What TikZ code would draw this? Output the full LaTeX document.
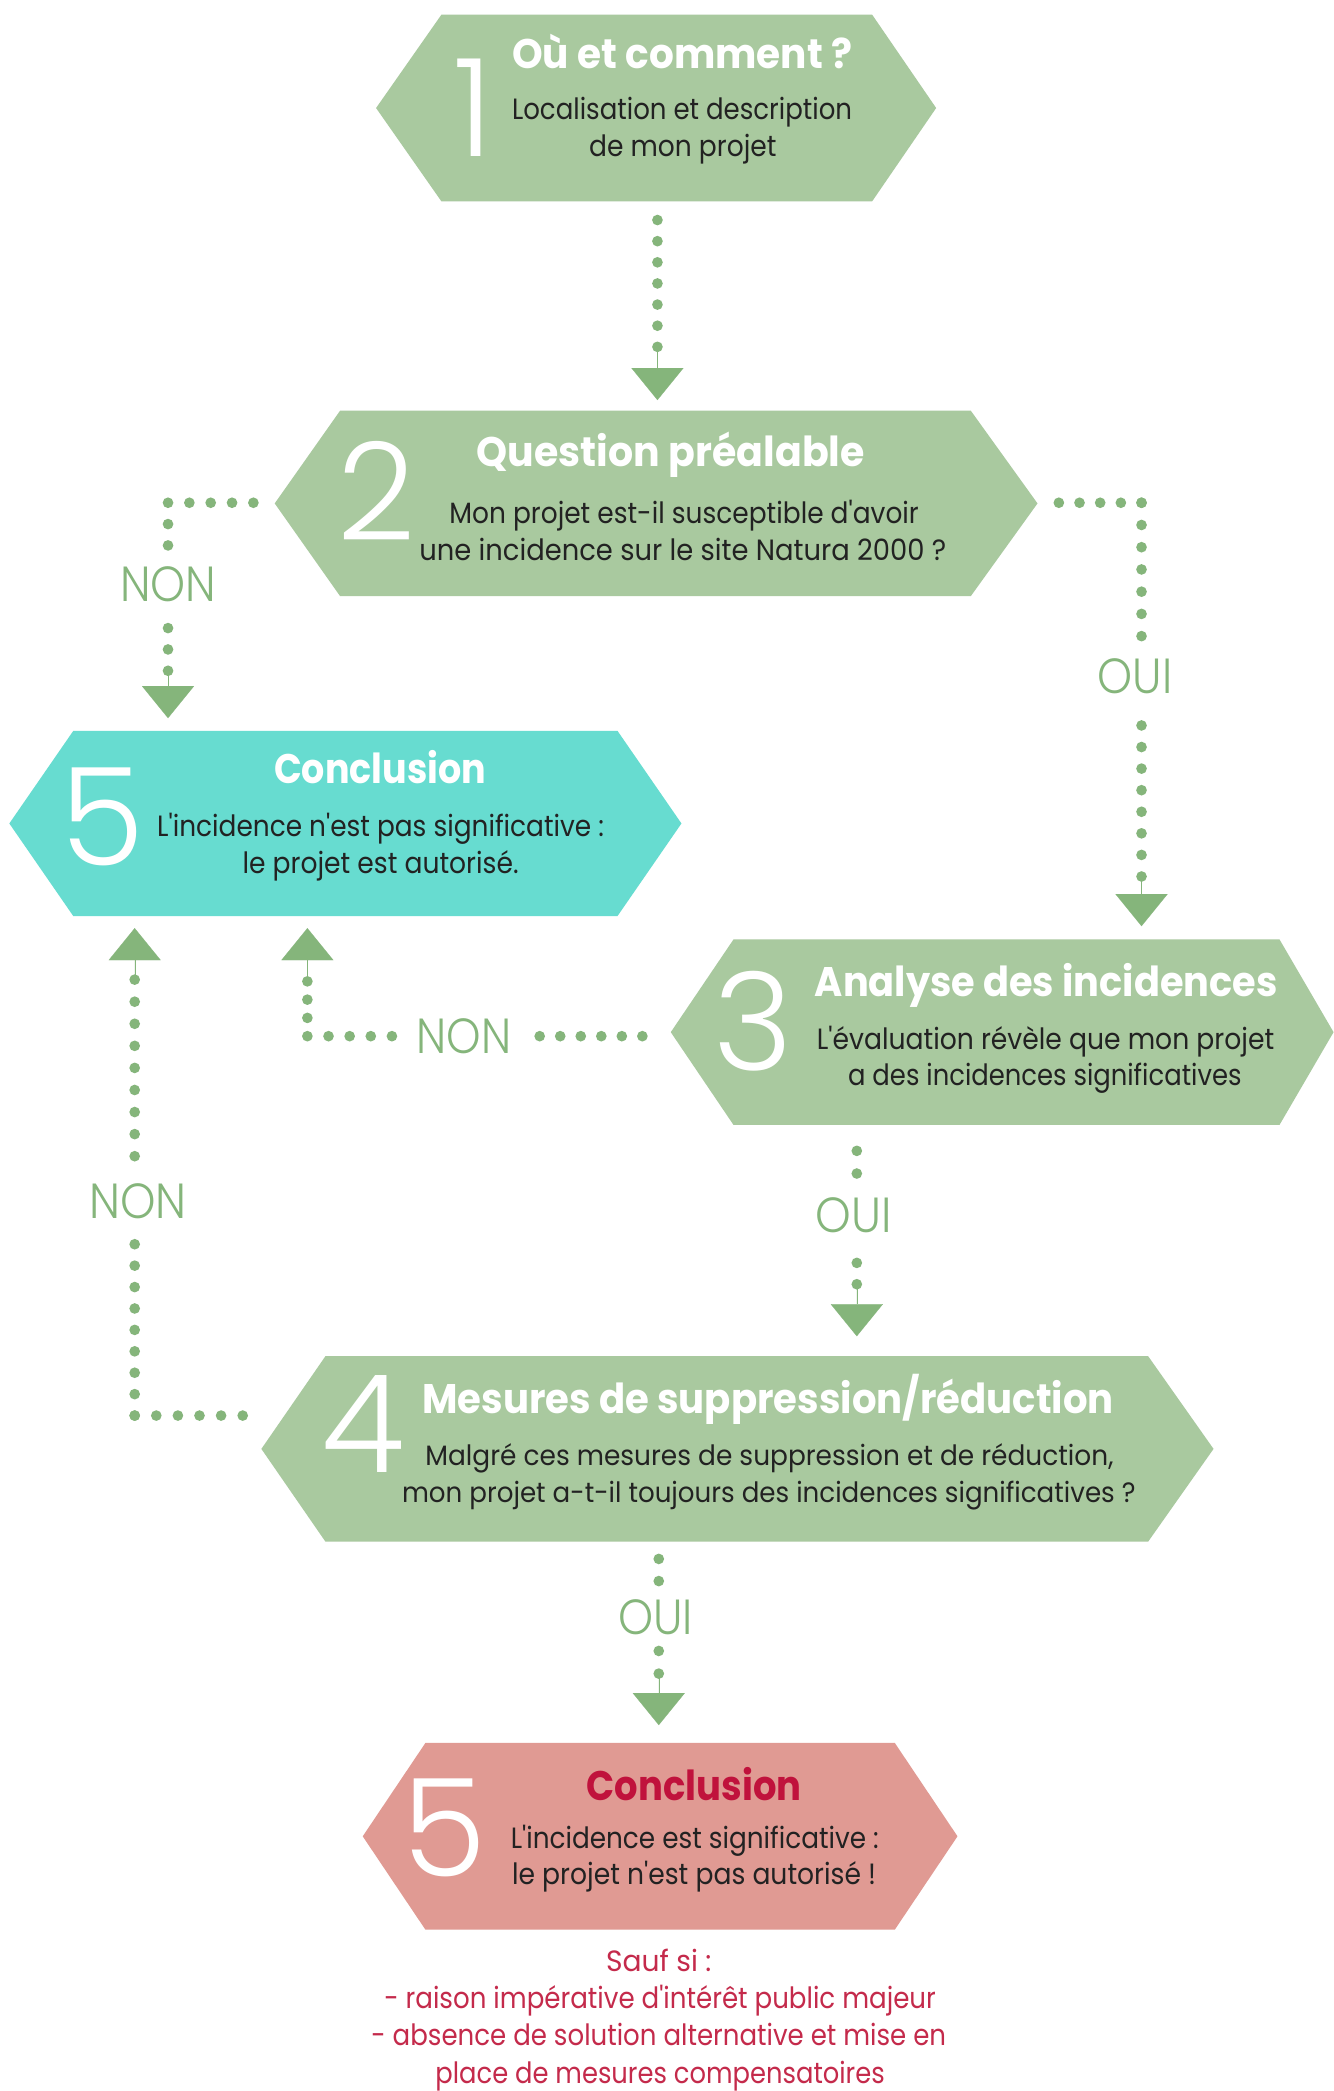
\documentclass[tikz,border=0pt]{standalone}
\usepackage{fontspec}
\usepackage{graphicx}
\setmainfont{Poppins}
\IfFontExistsTF{Poppins Light}{\newfontfamily\lightf{Poppins Light}}{\newfontfamily\lightf{Poppins}}
\usetikzlibrary{arrows.meta,calc}
\definecolor{hexgreen}{HTML}{A9C99F}
\definecolor{dotgreen}{HTML}{85B57B}
\definecolor{cyanhex}{HTML}{67DCD0}
\definecolor{pinkhex}{HTML}{E09A93}
\definecolor{crimson}{HTML}{C0123C}
\definecolor{saufred}{HTML}{C42A4B}
\definecolor{bodygray}{HTML}{222222}
\newlength\fitlen
\newcommand\fitto[2]{\settowidth\fitlen{#2}\pgfmathsetmacro\fitratio{#1/\fitlen}\scalebox{\fitratio}[1]{#2}}
\newcommand\ap{\textquotesingle}
\newcommand\hexfill[4]{\fill[#2] (#1.west) -- ($(#1.north west)+(#3,0)$) -- ($(#1.north east)+(-#4,0)$) -- (#1.east) -- ($(#1.south east)+(-#4,0)$) -- ($(#1.south west)+(#3,0)$) -- cycle;}
\tikzset{
  hexbox/.style={rectangle, inner sep=0pt, outer sep=0pt},
  ttlx/.style={font=\bfseries\fontsize{31}{36}\selectfont, text=white, anchor=base, inner sep=0pt},
  bodyx/.style={font=\fontsize{22}{27}\selectfont, text=bodygray, anchor=base, inner sep=0pt},
  smallbodyx/.style={bodyx, font=\fontsize{21}{26}\selectfont},
  saufx/.style={font=\fontsize{22}{27}\selectfont, text=saufred, anchor=base, inner sep=0pt},
  numx/.style={font=\lightf\fontsize{102}{102}\selectfont, text=white, anchor=base, inner sep=0pt},
  lblx/.style={font=\lightf\fontsize{37}{40}\selectfont, text=dotgreen, inner sep=0pt},
  dotrun/.style={draw=dotgreen, line width=8pt, line cap=round, dash pattern=on 0pt off #1pt},
  dotrun/.default=16,
  headrun/.style={draw=dotgreen, fill=dotgreen, line width=0.1pt, -{Triangle[length=24pt,width=39pt]}}
}
\begin{document}
\begin{tikzpicture}[x=1pt,y=-1pt]
\useasboundingbox (0,0) rectangle (1000,1568);
\fill[white] (0,0) rectangle (1000,1568);

% ---------- hexagons ----------
\node[hexbox, minimum width=420pt, minimum height=140pt] (h1) at (492,81) {};
\hexfill{h1}{hexgreen}{49}{48}
\node[hexbox, minimum width=572pt, minimum height=139pt] (h2) at (492,377.5) {};
\hexfill{h2}{hexgreen}{49}{50}
\node[hexbox, minimum width=504pt, minimum height=139pt] (h5c) at (259,617.5) {};
\hexfill{h5c}{cyanhex}{48}{48}
\node[hexbox, minimum width=497pt, minimum height=139pt] (h3) at (751.5,774) {};
\hexfill{h3}{hexgreen}{47}{40.5}
\node[hexbox, minimum width=714pt, minimum height=139pt] (h4) at (553,1086.5) {};
\hexfill{h4}{hexgreen}{48}{49}
\node[hexbox, minimum width=446pt, minimum height=140pt] (h5r) at (495,1377) {};
\hexfill{h5r}{pinkhex}{47}{47}

% ---------- texts ----------
\node[numx] (h1n) at (355,117.5) {1};
\node[ttlx] (h1t) at (511.6,51.2) {\fitto{255pt}{Où et comment ?}};
\node[bodyx] (h1a) at (511.5,89.5) {\fitto{255pt}{Localisation et description}};
\node[bodyx] (h1b) at (512,117.5) {\fitto{140.5pt}{de mon projet}};

\node[numx] (h2n) at (282.5,405) {2};
\node[ttlx] (h2t) at (503,350) {\fitto{291pt}{Question préalable}};
\node[bodyx] (h2a) at (513,392.4) {\fitto{352pt}{Mon projet est-il susceptible d\ap avoir}};
\node[bodyx] (h2b) at (512,420) {\fitto{395pt}{une incidence sur le site Natura 2000 ?}};

\node[numx] (h5cn) at (76.5,649) {5};
\node[ttlx] (h5ct) at (285,587.8) {\fitto{159pt}{Conclusion}};
\node[bodyx] (h5ca) at (285.4,627) {\fitto{335pt}{L\ap incidence n\ap est pas significative :}};
\node[bodyx] (h5cb) at (285.4,654.8) {\fitto{207pt}{le projet est autorisé.}};

\node[numx] (h3n) at (564.5,803) {3};
\node[ttlx] (h3t) at (784.5,747.4) {\fitto{347pt}{Analyse des incidences}};
\node[bodyx] (h3a) at (784,786.7) {\fitto{343pt}{L\ap évaluation révèle que mon projet}};
\node[bodyx] (h3b) at (783.5,814) {\fitto{295pt}{a des incidences significatives}};

\node[numx] (h4n) at (272,1104.5) {4};
\node[ttlx] (h4t) at (576,1060) {\fitto{518.5pt}{Mesures de suppression/réduction}};
\node[smallbodyx] (h4a) at (577,1099) {\fitto{516pt}{Malgré ces mesures de suppression et de réduction,}};
\node[smallbodyx] (h4b) at (576.5,1127) {\fitto{550pt}{mon projet a-t-il toujours des incidences significatives ?}};

\node[numx] (h5rn) at (333,1407) {5};
\node[ttlx, text=crimson] (h5rt) at (520.5,1350.5) {\fitto{161pt}{Conclusion}};
\node[bodyx] (h5ra) at (521,1386) {\fitto{276pt}{L\ap incidence est significative :}};
\node[bodyx] (h5rb) at (520.5,1413) {\fitto{273pt}{le projet n\ap est pas autorisé !}};

\node[saufx] (s1) at (494,1478) {\fitto{79pt}{Sauf si :}};
\node[saufx] (s2) at (495,1506) {\fitto{413.6pt}{- raison impérative d\ap intérêt public majeur}};
\node[saufx] (s3) at (494,1534) {\fitto{431pt}{- absence de solution alternative et mise en}};
\node[saufx] (s4) at (495,1562) {\fitto{337pt}{place de mesures compensatoires}};

% ---------- labels ----------
\node[lblx] (non1) at (126,438) {\fitto{72pt}{NON}};
\node[lblx] (oui1) at (851,507) {\fitto{56pt}{OUI}};
\node[lblx] (non2) at (348,777) {\fitto{71pt}{NON}};
\node[lblx] (oui2) at (640,911) {\fitto{57pt}{OUI}};
\node[lblx] (non3) at (103.6,900.6) {\fitto{73pt}{NON}};
\node[lblx] (oui3) at (491.6,1213) {\fitto{56pt}{OUI}};

% ---------- connectors ----------
% 1 -> 2
\coordinate (c1a) at (493,165);
\coordinate (c1b) at (493,260.3);
\coordinate (c1t) at (493,300);
\draw[dotrun=15.85] (c1a) -- (c1b);
\draw[headrun] (c1b) -- (c1t);

% 2 -> 5 (NON)
\coordinate (c2a) at (190,377);
\coordinate (c2k) at (126,377);
\coordinate (c2b) at (126,409.3);
\coordinate (c2c) at (126,471);
\coordinate (c2d) at (126,503.3);
\coordinate (c2t) at (126,538.5);
\draw[dotrun] (c2a) -- (c2k) -- (c2b);
\draw[dotrun] (c2c) -- (c2d);
\draw[headrun] (c2d) -- (c2t);

% 2 -> 3 (OUI)
\coordinate (c3a) at (794,377);
\coordinate (c3k) at (856,377);
\coordinate (c3b) at (856,477.3);
\coordinate (c3c) at (856,544);
\coordinate (c3d) at (856,657.3);
\coordinate (c3t) at (856,694.5);
\draw[dotrun=15.5] (c3a) -- (c3k);
\draw[dotrun=16.67] (c3k) -- (c3b);
\draw[dotrun=16.18] (c3c) -- (c3d);
\draw[headrun] (c3d) -- (c3t);

% 3 -> 5 (NON)
\coordinate (c4a) at (481.7,777);
\coordinate (c4b) at (404.7,777);
\coordinate (c4c) at (293.9,777);
\coordinate (c4k) at (230.5,777);
\coordinate (c4d) at (230.5,735.7);
\coordinate (c4t) at (230.5,696);
\draw[dotrun=15.4] (c4a) -- (c4b);
\draw[dotrun=15.85] (c4c) -- (c4k);
\draw[dotrun=13.7] (c4k) -- (c4d);
\draw[headrun] (c4d) -- (c4t);

% 4 -> 5 (NON)
\coordinate (c5a) at (182,1061.5);
\coordinate (c5k) at (101,1061.5);
\coordinate (c5b) at (101,932.8);
\coordinate (c5c) at (101,867);
\coordinate (c5d) at (101,734.4);
\coordinate (c5t) at (101,696);
\draw[dotrun=16.2] (c5a) -- (c5k);
\draw[dotrun=16.06] (c5k) -- (c5b);
\draw[dotrun=16.55] (c5c) -- (c5d);
\draw[headrun] (c5d) -- (c5t);

% 3 -> 4 (OUI)
\coordinate (c6a) at (642.5,863);
\coordinate (c6b) at (642.5,880.3);
\coordinate (c6c) at (642.5,947);
\coordinate (c6d) at (642.5,963.3);
\coordinate (c6t) at (642.5,1002);
\draw[dotrun=17] (c6a) -- (c6b);
\draw[dotrun=16] (c6c) -- (c6d);
\draw[headrun] (c6d) -- (c6t);

% 4 -> 5 (OUI)
\coordinate (c7a) at (494,1169);
\coordinate (c7b) at (494,1185.9);
\coordinate (c7c) at (494,1238);
\coordinate (c7d) at (494,1255.3);
\coordinate (c7t) at (494,1293.6);
\draw[dotrun=16.6] (c7a) -- (c7b);
\draw[dotrun=17] (c7c) -- (c7d);
\draw[headrun] (c7d) -- (c7t);
\end{tikzpicture}
\end{document}
